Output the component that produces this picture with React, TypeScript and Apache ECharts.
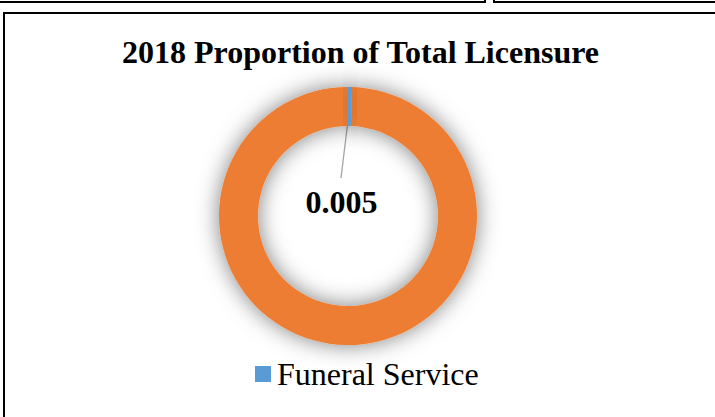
import React, { useEffect, useRef } from "react";
import * as echarts from "echarts";

const TITLE = "2018 Proportion of Total Licensure";
// drawn orange first so its shadow does not darken the thin blue slice
const categories = ["Other Licensure", "Funeral Service"];
const values = [0.995, 0.005];
const colors = ["#ED7D31", "#5B9BD5"];
const legendItems = ["Funeral Service"];
const LABELLED = 1;

const FONT = "'Times New Roman', 'Liberation Serif', serif";

const CENTER: [number, number] = [343, 202];
const RADIUS: [number, number] = [90, 129];

export default function App() {
  const ref = useRef<HTMLDivElement>(null);

  useEffect(() => {
    document.body.style.margin = "0";
    const chart = echarts.init(ref.current!, undefined, { renderer: "svg" });
    const total = values.reduce((a, b) => a + b, 0);
    const blueFrac = values[LABELLED] / total;
    // blue slice begins at 12 o'clock and runs clockwise
    const startAngle = 90 - blueFrac * 360;
    const midAngle = blueFrac * Math.PI; // radians from top, clockwise
    const midR = (RADIUS[0] + RADIUS[1]) / 2;
    const startPt: [number, number] = [
      CENTER[0] + midR * Math.sin(midAngle),
      CENTER[1] - midR * Math.cos(midAngle),
    ];
    const labelPos: [number, number] = [CENTER[0] - 6.5, CENTER[1] - 14];

    chart.setOption({
      animation: false,
      title: {
        text: TITLE,
        left: "center",
        top: 17,
        textStyle: { fontFamily: FONT, fontSize: 32, fontWeight: "bold", color: "#000" },
      },
      legend: {
        data: legendItems,
        left: 245,
        top: 339,
        icon: "rect",
        itemWidth: 16,
        itemHeight: 16,
        textStyle: { fontFamily: FONT, fontSize: 32, color: "#000", padding: [0, 0, 0, 1] },
      },
      series: [
        {
          type: "pie",
          center: CENTER,
          radius: RADIUS,
          startAngle,
          clockwise: true,
          avoidLabelOverlap: false,
          itemStyle: {
            shadowBlur: 22,
            shadowColor: "rgba(0,0,0,0.5)",
          },
          data: categories.map((name, i) => ({
            name,
            value: values[i],
            itemStyle: { color: colors[i] },
            label: i === LABELLED
              ? {
                  show: true,
                  formatter: "{c}",
                  fontFamily: FONT,
                  fontSize: 32,
                  fontWeight: "bold",
                  color: "#000",
                }
              : { show: false },
            labelLine: i === LABELLED
              ? { show: true, lineStyle: { color: "#A5A5A5", width: 1.3 } }
              : { show: false },
          })),
          labelLayout: (params: any) => {
            if (params.dataIndex !== LABELLED) return {};
            return {
              x: labelPos[0],
              y: labelPos[1],
              align: "center",
              verticalAlign: "middle",
              labelLinePoints: [
                startPt,
                [labelPos[0] - 0.5, labelPos[1] - 24],
                [labelPos[0] - 0.5, labelPos[1] - 24],
              ],
            };
          },
        },
      ],
    });
    return () => chart.dispose();
  }, []);

  const box = (s: React.CSSProperties) => (
    <div style={{ position: "absolute", border: "2px solid #000", boxSizing: "border-box", background: "#fff", ...s }} />
  );

  return (
    <div style={{ position: "fixed", left: 0, top: 0, width: 715, height: 417, overflow: "hidden", background: "#fff" }}>
      {box({ left: -10, top: -10, width: 496, height: 13 })}
      {box({ left: 493, top: -10, width: 300, height: 13 })}
      {box({ left: 3, top: 12, width: 800, height: 500 })}
      <div ref={ref} style={{ position: "absolute", left: 5, top: 14, width: 711, height: 403 }} />
    </div>
  );
}
